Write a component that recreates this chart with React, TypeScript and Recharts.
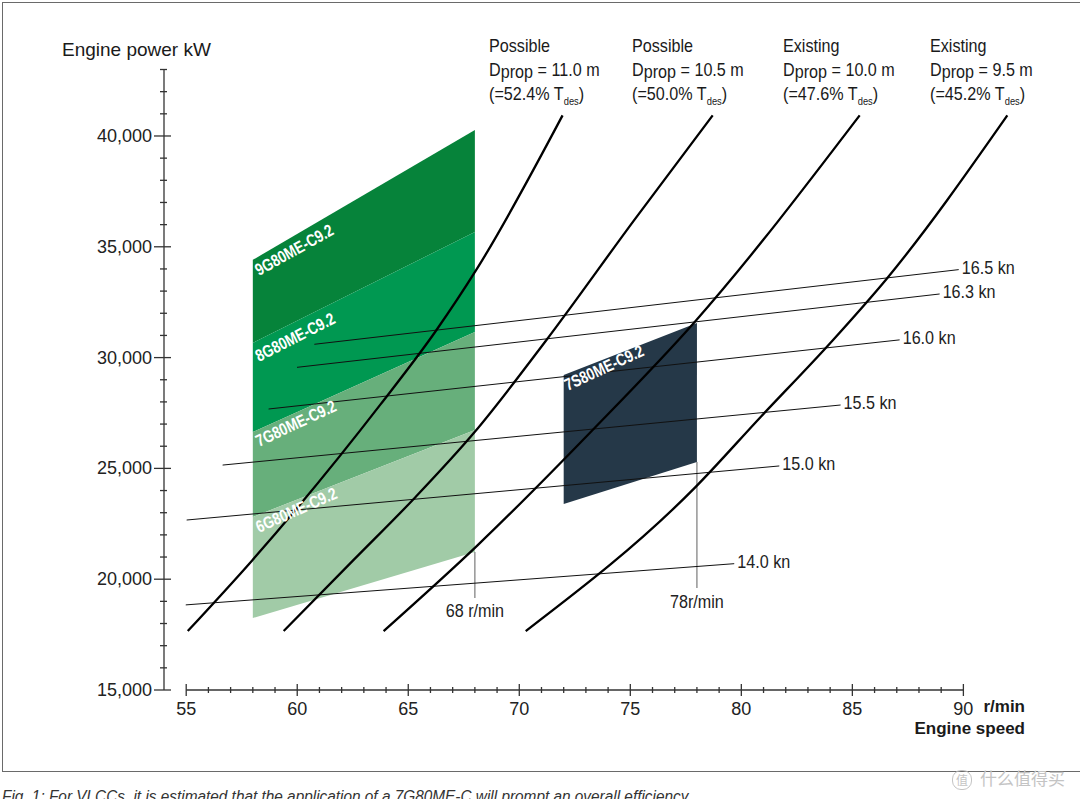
import React from 'react'
import { ComposedChart, Line, Area, XAxis, YAxis, ReferenceDot, ReferenceLine } from 'recharts'

const SANS = "'Liberation Sans', Arial, Helvetica, sans-serif"
// no condensed face is installed, so narrow text is squeezed horizontally
const SQUEEZE = 0.85

// axis ticks
const speedTicks = [
  55, 56, 57, 58, 59, 60, 61, 62, 63, 64, 65, 66, 67, 68, 69, 70, 71, 72,
  73, 74, 75, 76, 77, 78, 79, 80, 81, 82, 83, 84, 85, 86, 87, 88, 89, 90,
]
const powerTicks = [
  15000, 16000, 17000, 18000, 19000, 20000, 21000, 22000, 23000, 24000,
  25000, 26000, 27000, 28000, 29000, 30000, 31000, 32000, 33000, 34000,
  35000, 36000, 37000, 38000, 39000, 40000, 41000, 42000, 43000,
]

// G80ME-C9.2 layout areas, corners at 58 and 68 r/min
const gSpeed = [58, 68]
const g6Bottom = [18250, 21230]
const g6Top = [22810, 26730]
const g7Top = [26640, 31160]
const g8Top = [30660, 35670]
const g9Top = [34410, 40270]

// 7S80ME-C9.2 layout area, corners at 72 and 78 r/min
const sSpeed = [72, 78]
const s7Bottom = [23390, 25290]
const s7Top = [29220, 31560]

// propeller curves (r/min, kW)
const d110Speed = [55.07, 57.99, 63.76, 66.24, 68.09, 71.95]
const d110Power = [17660, 20870, 27900, 31200, 34000, 40930]
const d105Speed = [59.39, 62.54, 65.33, 67.99, 71.19, 75.15, 78.71]
const d105Power = [17660, 20870, 23710, 26640, 30750, 36170, 40930]
const d100Speed = [63.89, 68.13, 73.26, 77.9, 85.33]
const d100Power = [17660, 21540, 26690, 31610, 40930]
const d095Speed = [70.29, 77.9, 80.87, 84.09, 86.54, 91.98]
const d095Power = [17660, 24120, 27320, 30750, 33550, 40930]

// propeller captions
const propKind = ['Possible', 'Possible', 'Existing', 'Existing']
const propDia = ['11.0', '10.5', '10.0', '9.5']
const propShare = ['52.4', '50.0', '47.6', '45.2']

// ship speed lines
const knots = ['16.5 kn', '16.3 kn', '16.0 kn', '15.5 kn', '15.0 kn', '14.0 kn']
const knotStartSpeed = [60.77, 59.99, 58.71, 56.64, 55.02, 54.98]
const knotStartPower = [30600, 29560, 27680, 25150, 22670, 18840]
const knotEndSpeed = [89.79, 88.93, 87.13, 84.47, 81.71, 79.68]
const knotEndPower = [33970, 32870, 30800, 27860, 25110, 20700]

// r/min markers under the layout areas
const markSpeed = [68, 78]
const markLow = [19150, 19600]
const markHigh = [21230, 25290]
const markLabel = ['68 r/min', '78r/min']

// engine names written inside the areas
const models = ['9G80ME-C9.2', '8G80ME-C9.2', '7G80ME-C9.2', '6G80ME-C9.2', '7S80ME-C9.2']
const modelSpeed = [58.28, 58.28, 58.28, 58.28, 72.18]
const modelPower = [33680, 29800, 25970, 22090, 28490]
const modelAngle = [-29, -27, -25, -24, -25]

const band = (speeds: number[], low: number[], high: number[]) =>
  speeds.map((n, i) => ({ n, p: [low[i], high[i]] }))

const bands = [
  { data: band(gSpeed, g8Top, g9Top), color: '#06833a' },
  { data: band(gSpeed, g7Top, g8Top), color: '#009851' },
  { data: band(gSpeed, g6Top, g7Top), color: '#67af7b' },
  { data: band(gSpeed, g6Bottom, g6Top), color: '#a1cba7' },
  { data: band(sSpeed, s7Bottom, s7Top), color: '#253848' },
]

const toPoints = (speeds: number[], power: number[]) => speeds.map((n, i) => ({ n, p: power[i] }))
const curves = [
  toPoints(d110Speed, d110Power),
  toPoints(d105Speed, d105Power),
  toPoints(d100Speed, d100Power),
  toPoints(d095Speed, d095Power),
]

function SpeedTick(props: any) {
  const { x, y, payload } = props
  const v = payload.value
  const major = v % 5 === 0
  return (
    <g>
      <line x1={x} x2={x} y1={y - (major ? 6 : 3)} y2={y + (major ? 6 : 3)} stroke="#333" strokeWidth={1.3} />
      {major && (
        <text x={x} y={y + 19} dominantBaseline="central" textAnchor="middle" fontSize={18} fontFamily={SANS} fill="#222">
          {v}
        </text>
      )}
    </g>
  )
}

function PowerTick(props: any) {
  const { x, y, payload } = props
  const v = payload.value
  const major = v % 5000 === 0
  return (
    <g>
      <line x1={x - (major ? 10 : 4)} x2={x + (major ? 7 : 3)} y1={y} y2={y} stroke="#333" strokeWidth={1.3} />
      {major && (
        <text x={x - 12} y={y} dominantBaseline="central" textAnchor="end" fontSize={18} fontFamily={SANS} fill="#222">
          {v.toLocaleString('en-US')}
        </text>
      )}
    </g>
  )
}

function Note(props: any) {
  const {
    viewBox, text, dx = 0, dy = 0, anchor = 'start', size = 19, fill = '#222',
    weight = 400, rot = 0, base = 'central', sq = SQUEEZE,
  } = props
  const x = viewBox.x + dx
  const y = viewBox.y + dy
  return (
    <text
      x={0}
      y={0}
      textAnchor={anchor}
      dominantBaseline={base}
      fontSize={size}
      fontWeight={weight}
      fontFamily={SANS}
      fill={fill}
      transform={`translate(${x} ${y}) rotate(${rot}) scale(${sq} 1)`}
    >
      {text}
    </text>
  )
}

const squeezed = {
  display: 'inline-block',
  transform: `scaleX(${SQUEEZE})`,
  transformOrigin: 'left top',
  whiteSpace: 'nowrap' as const,
}

export default function App() {
  return (
    <div style={{ position: 'absolute', left: 0, top: 0, width: 1080, height: 799, overflow: 'hidden', background: '#fff' }}>
      <div style={{ position: 'absolute', left: 2, top: 2, width: 1200, height: 768, border: '1px solid #6a6a6a' }} />
      <div style={{ position: 'absolute', left: 0, top: 0 }}>
        <ComposedChart width={1080} height={799} margin={{ top: 69.5, right: 50, bottom: 79, left: 104 }}>
          <XAxis
            type="number"
            dataKey="n"
            domain={[54, 93]}
            ticks={speedTicks}
            interval={0}
            tickLine={false}
            axisLine={false}
            tickSize={0}
            tickMargin={0}
            tick={<SpeedTick />}
            height={30}
            allowDataOverflow
          />
          <YAxis
            type="number"
            domain={[15000, 43000]}
            ticks={powerTicks}
            interval={0}
            tickLine={false}
            axisLine={{ stroke: '#333', strokeWidth: 1.3 }}
            tickSize={0}
            tickMargin={0}
            tick={<PowerTick />}
            width={60}
            allowDataOverflow
          />
          <ReferenceLine
            segment={[{ x: 55, y: 15000 }, { x: 90, y: 15000 }]}
            stroke="#333"
            strokeWidth={1.3}
            ifOverflow="visible"
          />
          {bands.map((b, i) => (
            <Area
              key={'band' + i}
              data={b.data}
              dataKey="p"
              type="linear"
              fill={b.color}
              fillOpacity={1}
              stroke="none"
              isAnimationActive={false}
            />
          ))}
          {markSpeed.map((n, i) => (
            <Line
              key={'mark' + i}
              data={[{ n, p: markLow[i] }, { n, p: markHigh[i] }]}
              dataKey="p"
              type="linear"
              stroke="#7a7a7a"
              strokeWidth={1.2}
              dot={false}
              isAnimationActive={false}
            />
          ))}
          {knots.map((k, i) => (
            <Line
              key={'kn' + i}
              data={[
                { n: knotStartSpeed[i], p: knotStartPower[i] },
                { n: knotEndSpeed[i], p: knotEndPower[i] },
              ]}
              dataKey="p"
              type="linear"
              stroke="#111"
              strokeWidth={1}
              dot={false}
              isAnimationActive={false}
            />
          ))}
          {curves.map((c, i) => (
            <Line
              key={'prop' + i}
              data={c}
              dataKey="p"
              type="monotone"
              stroke="#000"
              strokeWidth={2.3}
              dot={false}
              isAnimationActive={false}
            />
          ))}
          {knots.map((k, i) => (
            <ReferenceDot
              key={'knl' + i}
              x={knotEndSpeed[i]}
              y={knotEndPower[i]}
              r={0}
              fill="none"
              stroke="none"
              ifOverflow="visible"
              label={<Note text={k} dx={3} dy={-2} />}
            />
          ))}
          {markSpeed.map((n, i) => (
            <ReferenceDot
              key={'markl' + i}
              x={n}
              y={markLow[i]}
              r={0}
              fill="none"
              stroke="none"
              ifOverflow="visible"
              label={<Note text={markLabel[i]} dy={13} anchor="middle" />}
            />
          ))}
          {models.map((m, i) => (
            <ReferenceDot
              key={'model' + i}
              x={modelSpeed[i]}
              y={modelPower[i]}
              r={0}
              fill="none"
              stroke="none"
              ifOverflow="visible"
              label={<Note text={m} base="auto" rot={modelAngle[i]} size={17} sq={0.8} weight={700} fill="#fff" />}
            />
          ))}
        </ComposedChart>
      </div>

      {propKind.map((k, i) => (
        <div
          key={'hdr' + i}
          style={{
            position: 'absolute',
            left: [489, 632, 783, 930][i],
            top: 34,
            fontFamily: SANS,
            fontSize: 19,
            lineHeight: '24px',
            color: '#1a1a1a',
            ...squeezed,
          }}
        >
          <div>{k}</div>
          <div>
            D<span style={{ position: 'relative', top: 2 }}>prop</span> = {propDia[i]} m
          </div>
          <div>
            (={propShare[i]}% T<span style={{ fontSize: 11, position: 'relative', top: 5 }}>des</span>)
          </div>
        </div>
      ))}

      <div style={{ position: 'absolute', left: 62, top: 38, fontFamily: SANS, fontSize: 19, lineHeight: '24px', color: '#1a1a1a', whiteSpace: 'nowrap' }}>
        Engine power kW
      </div>
      <div style={{ position: 'absolute', right: 55, top: 696, fontFamily: SANS, fontSize: 17, fontWeight: 700, lineHeight: '22px', color: '#1a1a1a', textAlign: 'right', whiteSpace: 'nowrap' }}>
        <div>r/min</div>
        <div>Engine speed</div>
      </div>

      <div style={{ position: 'absolute', left: 2, top: 788, fontFamily: SANS, fontStyle: 'italic', fontSize: 16, lineHeight: '18px', color: '#333', ...squeezed, transform: 'scaleX(0.96)' }}>
        Fig. 1: For VLCCs, it is estimated that the application of a 7G80ME-C will prompt an overall efficiency
      </div>
      <div style={{ position: 'absolute', left: 952, top: 768, fontFamily: "'Noto Sans CJK SC', sans-serif", fontSize: 17, lineHeight: '20px', color: '#c4c4c4', whiteSpace: 'nowrap' }}>
        <span style={{ display: 'inline-block', width: 18, height: 18, lineHeight: '18px', borderRadius: 9, border: '1px solid #c4c4c4', textAlign: 'center', fontSize: 12, marginRight: 8, verticalAlign: 'middle' }}>值</span>
        什么值得买
      </div>
    </div>
  )
}
